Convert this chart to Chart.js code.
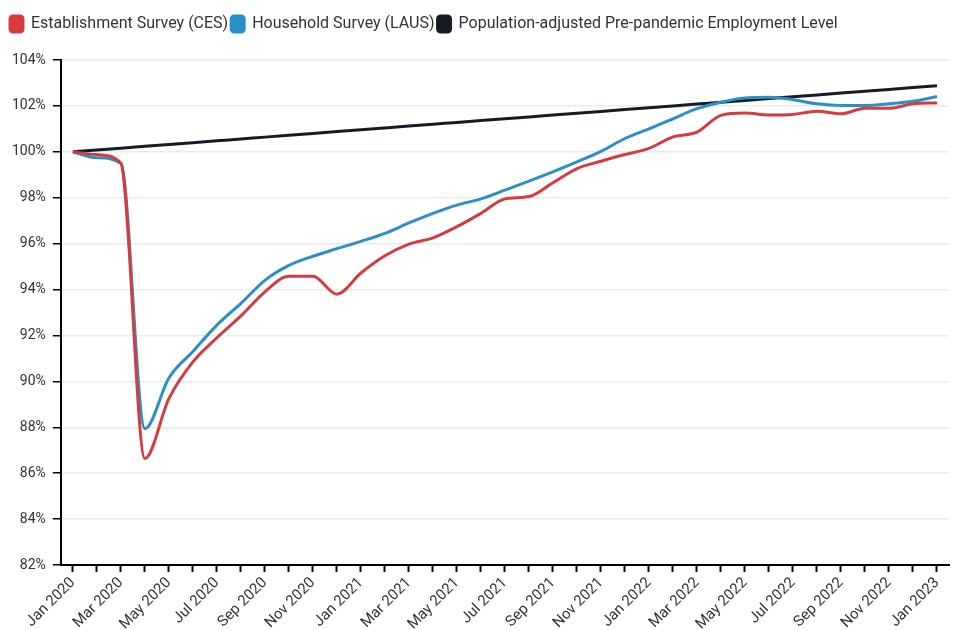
<!DOCTYPE html>
<html>
<head>
<meta charset="utf-8">
<script src="https://cdn.jsdelivr.net/npm/chart.js@4"></script>
<style>
  html, body { margin: 0; padding: 0; background: #fff; }
  #wrap { width: 958px; height: 630px; position: relative; }
</style>
</head>
<body>
<div id="wrap"><canvas id="employmentChart"></canvas></div>
<script>
// monthly, Jan 2020 .. Jan 2023
const months = [
  'Jan 2020', 'Feb 2020', 'Mar 2020', 'Apr 2020', 'May 2020', 'Jun 2020',
  'Jul 2020', 'Aug 2020', 'Sep 2020', 'Oct 2020', 'Nov 2020', 'Dec 2020',
  'Jan 2021', 'Feb 2021', 'Mar 2021', 'Apr 2021', 'May 2021', 'Jun 2021',
  'Jul 2021', 'Aug 2021', 'Sep 2021', 'Oct 2021', 'Nov 2021', 'Dec 2021',
  'Jan 2022', 'Feb 2022', 'Mar 2022', 'Apr 2022', 'May 2022', 'Jun 2022',
  'Jul 2022', 'Aug 2022', 'Sep 2022', 'Oct 2022', 'Nov 2022', 'Dec 2022',
  'Jan 2023'
];

// Establishment Survey (CES), % of Jan 2020
const cesValues = [
  100.0, 99.88, 99.5, 86.64, 89.25, 90.85, 91.9, 92.85, 93.9, 94.58, 94.58, 93.8,
  94.72, 95.47, 95.98, 96.25, 96.74, 97.32, 97.95, 98.05, 98.65, 99.27, 99.59, 99.88,
  100.15, 100.65, 100.86, 101.59, 101.69, 101.6, 101.63, 101.77, 101.66, 101.9, 101.9, 102.09,
  102.13
];

// Household Survey (LAUS)
const lausValues = [
  100.0, 99.74, 99.5, 87.94, 90.15, 91.3, 92.45, 93.4, 94.4, 95.05, 95.45, 95.78,
  96.1, 96.45, 96.9, 97.32, 97.68, 97.95, 98.33, 98.72, 99.13, 99.56, 100.02, 100.58,
  101.0, 101.44, 101.88, 102.16, 102.35, 102.38, 102.27, 102.09, 102.02, 102.02, 102.09, 102.2,
  102.41
];

// Population-adjusted pre-pandemic employment level
const trendValues = [
  100.0, 100.08, 100.16, 100.24, 100.32, 100.4, 100.48, 100.56, 100.64, 100.72, 100.8, 100.88,
  100.96, 101.04, 101.12, 101.2, 101.28, 101.36, 101.44, 101.52, 101.6, 101.68, 101.76, 101.84,
  101.92, 102.0, 102.08, 102.16, 102.24, 102.32, 102.4, 102.48, 102.56, 102.64, 102.72, 102.8,
  102.88
];

const yTicks = [82, 84, 86, 88, 90, 92, 94, 96, 98, 100, 102, 104];

Chart.defaults.font.family = 'Roboto, "Noto Sans", sans-serif';
Chart.defaults.color = '#333';

// push the plot down a bit below the legend
const legendGap = {
  id: 'legendGap',
  beforeInit(chart) {
    const fit = chart.legend.fit;
    chart.legend.fit = function () {
      fit.bind(chart.legend)();
      this.height += 18;
    };
  }
};

function makeLine(label, data, color) {
  return {
    label: label,
    data: data,
    borderColor: color,
    backgroundColor: color,
    borderWidth: 3,
    pointRadius: 0,
    pointHoverRadius: 0,
    cubicInterpolationMode: 'monotone',
    fill: false
  };
}

const ctx = document.getElementById('employmentChart').getContext('2d');
new Chart(ctx, {
  type: 'line',
  data: {
    labels: months,
    datasets: [
      makeLine('Establishment Survey (CES)', cesValues, '#d63b40'),
      makeLine('Household Survey (LAUS)', lausValues, '#2b90c8'),
      makeLine('Population-adjusted Pre-pandemic Employment Level', trendValues, '#141c24')
    ]
  },
  plugins: [legendGap],
  options: {
    responsive: true,
    maintainAspectRatio: false,
    animation: false,
    layout: { padding: { top: 13, left: 7, right: 9, bottom: 0 } },
    plugins: {
      legend: {
        position: 'top',
        align: 'start',
        labels: {
          boxWidth: 13,
          boxHeight: 16,
          useBorderRadius: true,
          borderRadius: 3,
          padding: 3,
          color: '#333',
          font: { size: 16 }
        }
      },
      tooltip: { enabled: false }
    },
    scales: {
      x: {
        offset: true,
        afterFit: function (axis) {
          axis.height = 65;
        },
        border: { display: true, color: '#000', width: 2 },
        grid: {
          drawOnChartArea: false,
          drawTicks: true,
          tickLength: 7,
          tickColor: '#000',
          tickWidth: 2
        },
        ticks: {
          autoSkip: false,
          maxRotation: 45,
          minRotation: 45,
          padding: 2,
          color: '#333',
          font: { size: 15 },
          callback: function (value, index) {
            return index % 2 === 0 ? months[index] : '';
          }
        }
      },
      y: {
        min: 82,
        max: 104,
        afterBuildTicks: function (axis) {
          axis.ticks = yTicks.map(v => ({ value: v }));
        },
        afterFit: function (axis) {
          axis.width -= 2;
        },
        border: { display: true, color: '#000', width: 2 },
        grid: {
          color: '#ebebeb',
          lineWidth: 1.5,
          tickColor: '#000',
          tickLength: 8,
          tickWidth: 1.5
        },
        ticks: {
          padding: 7,
          color: '#333',
          font: { size: 14 },
          callback: function (value) {
            return value + '%';
          }
        }
      }
    }
  }
});
</script>
</body>
</html>
